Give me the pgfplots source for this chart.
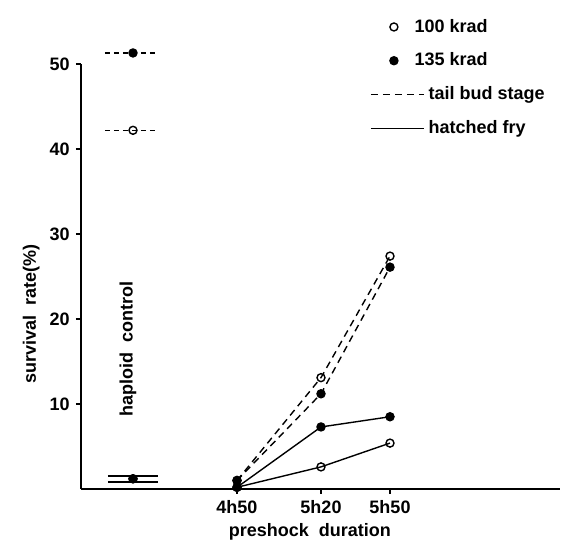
\documentclass[border=0pt]{standalone}
\usepackage{fontspec}
\setmainfont{Liberation Sans}
\usepackage{pgfplots}
\pgfplotsset{compat=1.18}
\pgfplotsset{
  markleg/.style={legend image code/.code={\draw[##1] plot coordinates {(11.5pt,0pt)};}},
  lineleg/.style={legend image code/.code={\draw[##1] (0pt,0pt) -- (26.5pt,0pt);}},
}
\begin{document}
\fontsize{9}{11}\selectfont\bfseries
\begin{tikzpicture}
\begin{axis}[
  scale only axis, width=239.5pt, height=212.5pt,
  xmin=0, xmax=479, ymin=0, ymax=50,
  axis lines=left, axis line style={-, line width=1pt},
  clip=false,
  font=\fontsize{9}{11}\selectfont\bfseries,
  ytick={10,20,30,40,50},
  xtick={156,240,309},
  xticklabels={4{\small h}50,5{\small h}20,5{\small h}50},
  tick align=outside, major tick length=2.5pt,
  tick style={line width=0.8pt, black},
  /pgf/number format/assume math mode=true,
  xlabel={preshock\ \ duration},
  ylabel={survival\ \ rate{\small(\%)}},
  every axis x label/.style={at={(axis description cs:0.478,-0.100)}, anchor=center},
  every axis y label/.style={at={(axis description cs:-0.104,0.412)}, anchor=center, rotate=90},
  legend style={draw=none, fill=none, at={(axis description cs:0.603,1.116)},
    anchor=north west, row sep=5pt, inner sep=0pt,
    font=\fontsize{9}{11}\selectfont\bfseries},
  legend cell align=left,
  every axis plot/.append style={line width=0.7pt, black, mark size=2pt},
]
\addlegendimage{only marks, mark=o, mark options={fill=white}, markleg}
\addlegendentry{\hspace*{-7pt}100 krad}
\addlegendimage{only marks, mark=*, markleg}
\addlegendentry{\hspace*{-7pt}135 krad}
\addlegendimage{dash pattern=on 3.5pt off 2.5pt, lineleg}
\addlegendentry{tail bud stage}
\addlegendimage{solid, lineleg}
\addlegendentry{hatched fry}

% haploid control
\addplot[dash pattern=on 2.5pt off 2pt, forget plot] coordinates {(24,51.3) (75,51.3)};
\addplot[dash pattern=on 2.5pt off 2pt, forget plot] coordinates {(24,42.2) (75,42.2)};
\addplot[solid, forget plot] coordinates {(27,1.55) (77,1.55)};
\addplot[solid, forget plot] coordinates {(27,0.8) (77,0.8)};
\addplot[only marks, mark=o, mark options={fill=white}, forget plot] coordinates {(52,42.2) (52,1.2)};
\addplot[only marks, mark=*, forget plot] coordinates {(52,51.3) (52,1.2)};

% tail bud stage
\addplot[dash pattern=on 3.5pt off 2.5pt, mark=o, mark options={solid, fill=white}, forget plot]
  coordinates {(156,1.0) (240,13.1) (309,27.4)};
\addplot[dash pattern=on 3.5pt off 2.5pt, mark=*, mark options={solid}, forget plot]
  coordinates {(156,1.0) (240,11.2) (309,26.1)};
% hatched fry
\addplot[solid, mark=o, mark options={fill=white}, forget plot]
  coordinates {(156,0.2) (240,2.6) (309,5.4)};
\addplot[solid, mark=*, forget plot]
  coordinates {(156,0.2) (240,7.3) (309,8.5)};

\node[rotate=90] at (axis cs:47,16.5) {haploid\ \ control};
\coordinate (bl) at (axis cs:-81,-6.94);
\coordinate (tr) at (axis cs:482,57.53);
\end{axis}
\pgfresetboundingbox
\path[use as bounding box] (bl) rectangle (tr);
\end{tikzpicture}
\end{document}
